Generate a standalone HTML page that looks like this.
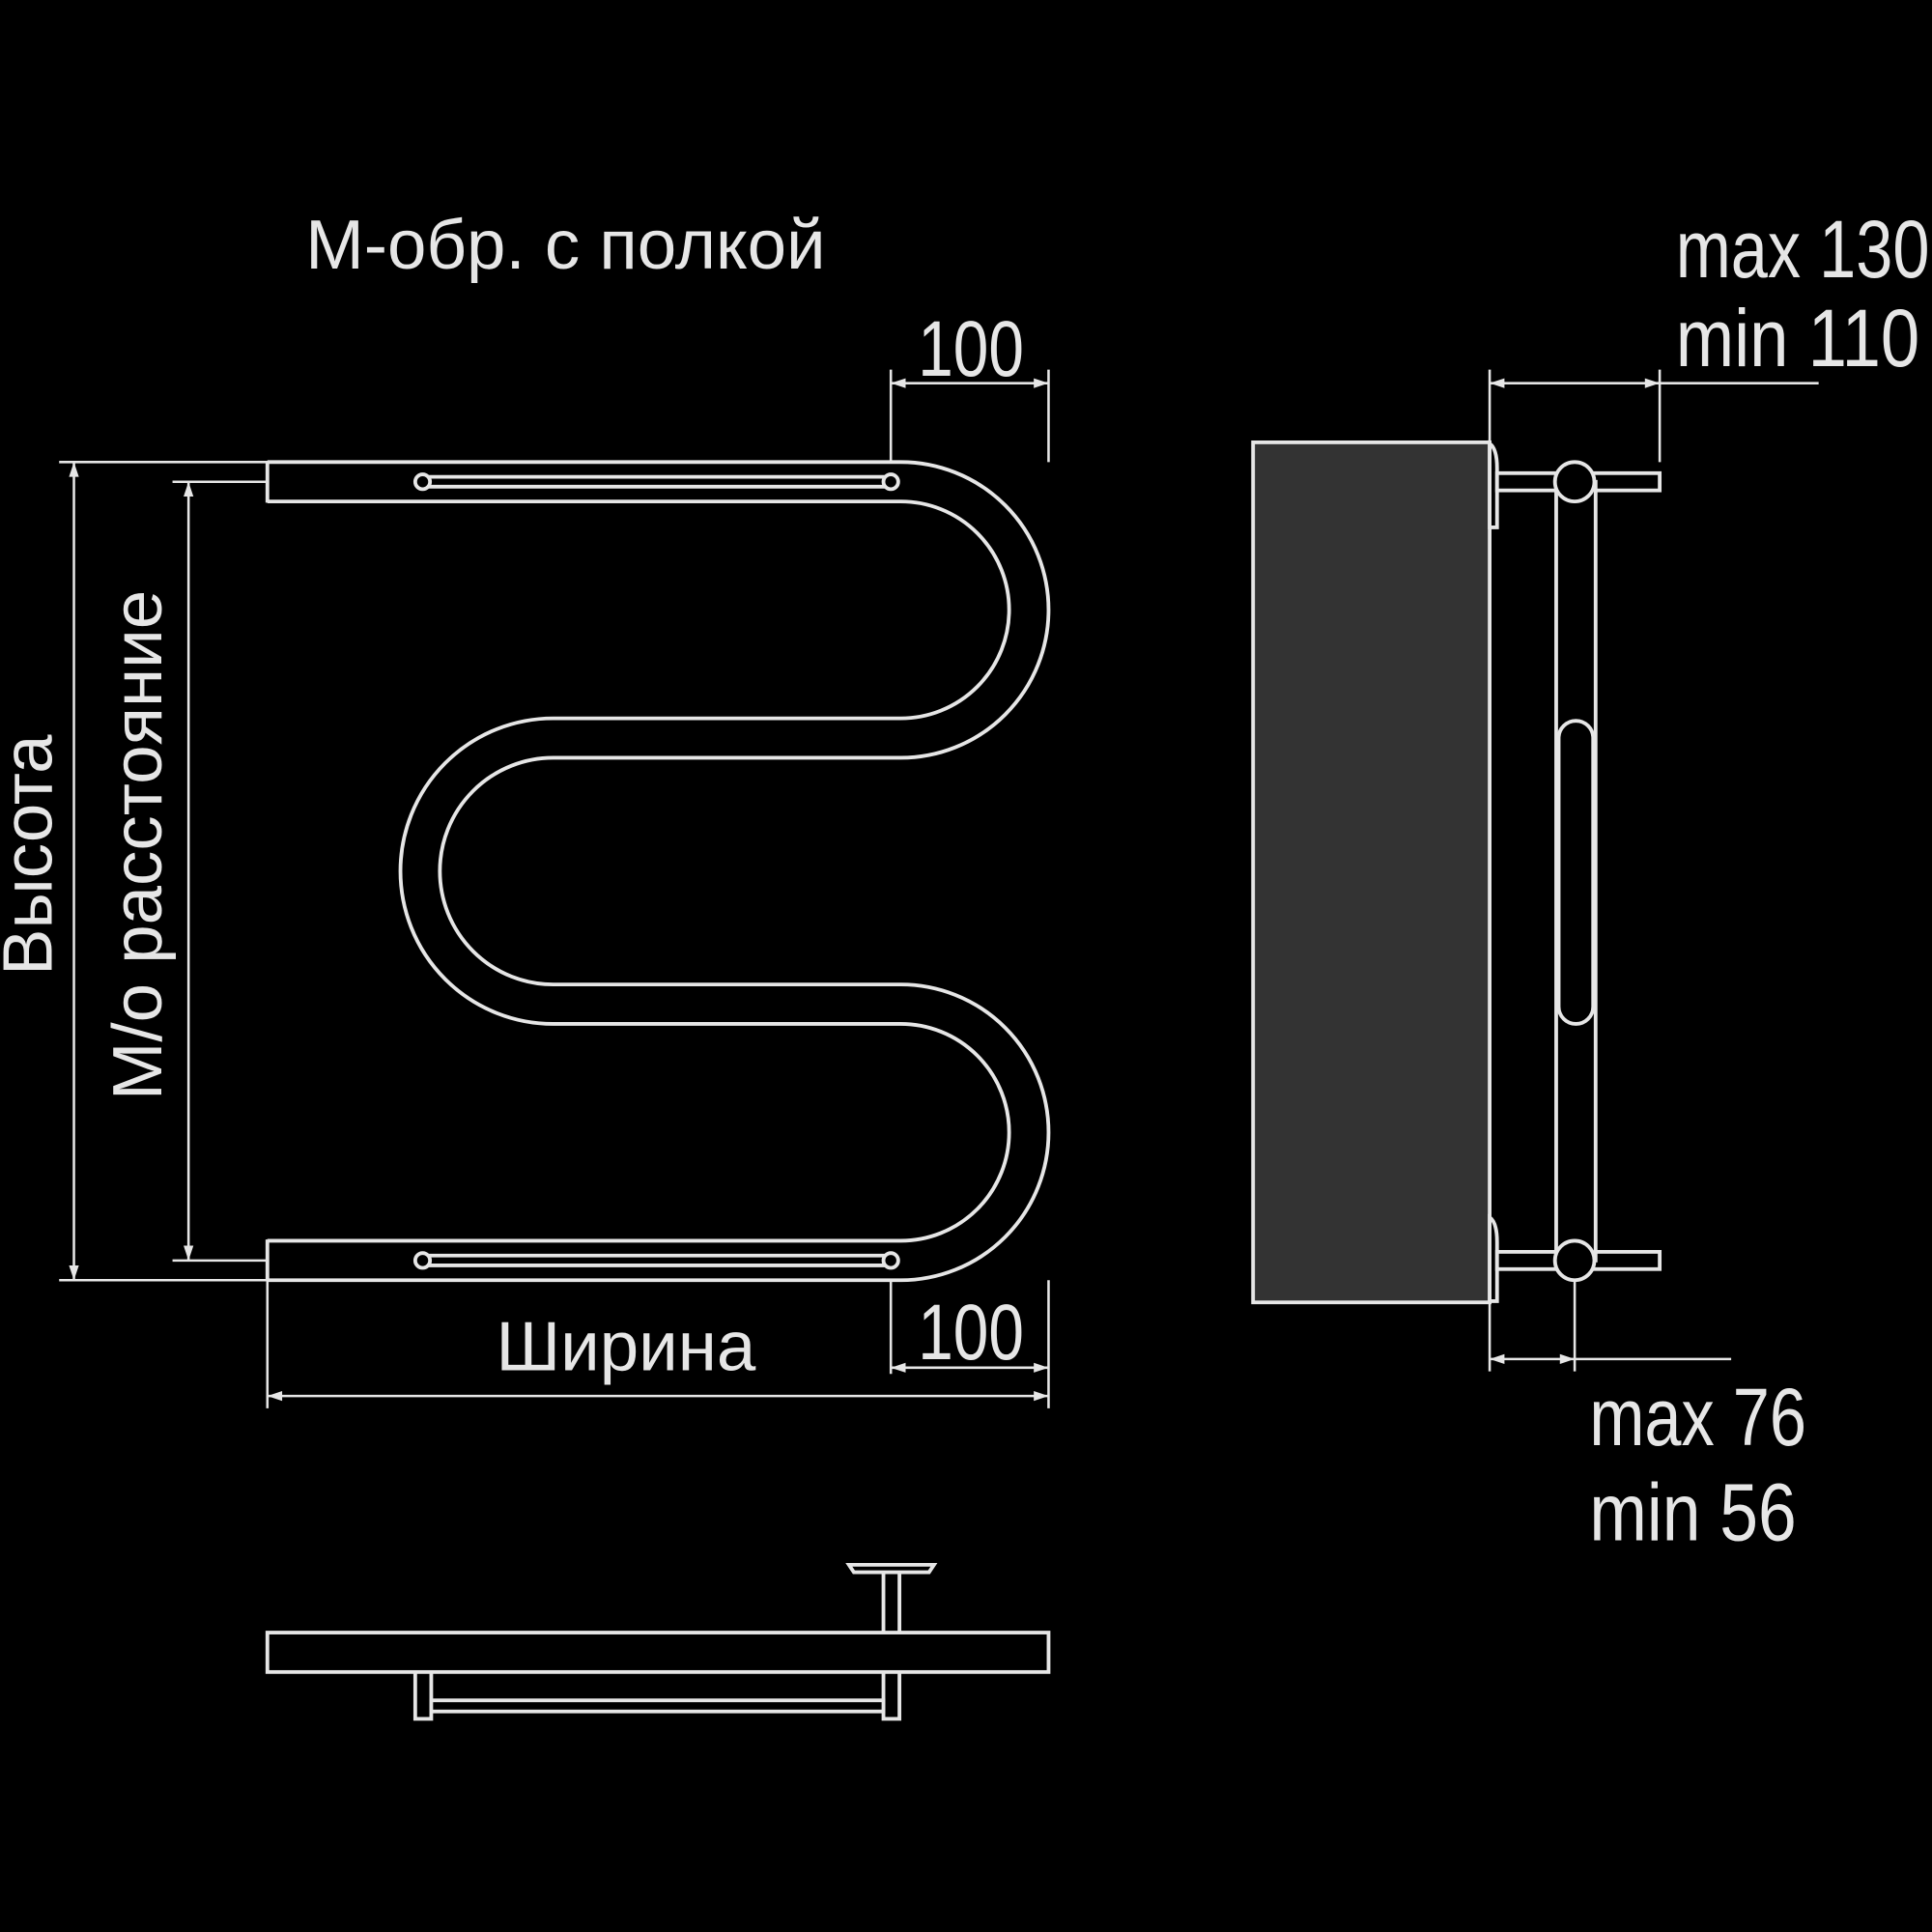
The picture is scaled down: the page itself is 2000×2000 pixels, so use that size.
<!DOCTYPE html>
<html><head><meta charset="utf-8"><style>
html,body{margin:0;padding:0;background:#000;}
svg{display:block}
text{font-family:"Liberation Sans","DejaVu Sans",sans-serif;fill:#e6e6e6}
.c{font-family:"Liberation Sans Narrow","Liberation Sans",sans-serif}
</style></head><body>
<svg width="2000" height="2000" viewBox="0 0 1568 1568" xmlns="http://www.w3.org/2000/svg">
<rect width="1568" height="1568" fill="#000"/>
<text x="459" y="218" font-size="57" text-anchor="middle">М-обр. с полкой</text>

<!-- M pipe -->
<g fill="none" stroke-linecap="butt">
<path d="M217 391 H731 A104 104 0 0 1 731 599 H449 A108 108 0 0 0 449 815 H731 A104 104 0 0 1 731 1023 H217" stroke="#e6e6e6" stroke-width="35"/>
<path d="M218 391 H731 A104 104 0 0 1 731 599 H449 A108 108 0 0 0 449 815 H731 A104 104 0 0 1 731 1023 H218" stroke="#000" stroke-width="29"/>
</g>
<g stroke="#e6e6e6" stroke-width="3" fill="none">
<line x1="217" y1="374" x2="217" y2="408"/>
<line x1="217" y1="1006" x2="217" y2="1040"/>
<rect x="343" y="387" width="380" height="8" rx="4"/>
<circle cx="343" cy="391" r="6" fill="#000"/><circle cx="723" cy="391" r="6" fill="#000"/>
<rect x="343" y="1019" width="380" height="8" rx="4"/>
<circle cx="343" cy="1023" r="6" fill="#000"/><circle cx="723" cy="1023" r="6" fill="#000"/>
</g>

<!-- dimensions -->
<g stroke="#e6e6e6" stroke-width="2" fill="none">
<line x1="723" y1="300" x2="723" y2="375"/><line x1="851" y1="300" x2="851" y2="375"/>
<line x1="723" y1="311" x2="851" y2="311"/>
<line x1="48" y1="375" x2="217" y2="375"/><line x1="48" y1="1039" x2="217" y2="1039"/>
<line x1="60" y1="375" x2="60" y2="1039"/>
<line x1="140" y1="391" x2="217" y2="391"/><line x1="140" y1="1023" x2="217" y2="1023"/>
<line x1="153" y1="391" x2="153" y2="1023"/>
<line x1="217" y1="1039" x2="217" y2="1143"/><line x1="851" y1="1039" x2="851" y2="1143"/>
<line x1="217" y1="1133" x2="851" y2="1133"/>
<line x1="723" y1="1039" x2="723" y2="1115"/>
<line x1="723" y1="1110" x2="851" y2="1110"/>
</g>
<g fill="#e6e6e6">
<path d="M723 311 l12 -4 v8z"/><path d="M851 311 l-12 -4 v8z"/>
<path d="M60 375 l-4 12 h8z"/><path d="M60 1039 l-4 -12 h8z"/>
<path d="M153 391 l-4 12 h8z"/><path d="M153 1023 l-4 -12 h8z"/>
<path d="M217 1133 l12 -4 v8z"/><path d="M851 1133 l-12 -4 v8z"/>
<path d="M723 1110 l12 -4 v8z"/><path d="M851 1110 l-12 -4 v8z"/>
</g>
<text class="c" x="788" y="305" font-size="64" text-anchor="middle" textLength="86" lengthAdjust="spacingAndGlyphs">100</text>
<text class="c" x="788" y="1103" font-size="64" text-anchor="middle" textLength="86" lengthAdjust="spacingAndGlyphs">100</text>
<text x="508" y="1112" font-size="57" text-anchor="middle">Ширина</text>
<text transform="translate(42 694) rotate(-90)" font-size="57" text-anchor="middle">Высота</text>
<text transform="translate(131 686) rotate(-90)" font-size="57" text-anchor="middle">М/о расстояние</text>

<!-- side view -->
<rect x="1017" y="359" width="192" height="698" fill="#333" stroke="#e6e6e6" stroke-width="3"/>
<g stroke="#e6e6e6" stroke-width="3" fill="#000">
<path d="M1209 360 q6 4 6 20 v48 h-6z"/>
<path d="M1209 988 q6 4 6 20 v48 h-6z"/>
<rect x="1215" y="384" width="132" height="14"/>
<rect x="1215" y="1016" width="132" height="14"/>
<rect x="1263" y="391" width="32" height="632"/>
<rect x="1265" y="585" width="28" height="246" rx="14"/>
<circle cx="1278" cy="391" r="16"/>
<circle cx="1278" cy="1023" r="16"/>
</g>
<g stroke="#e6e6e6" stroke-width="2" fill="none">
<line x1="1209" y1="300" x2="1209" y2="358"/><line x1="1347" y1="300" x2="1347" y2="375"/>
<line x1="1209" y1="311" x2="1476" y2="311"/>
<line x1="1209" y1="1058" x2="1209" y2="1113"/><line x1="1278" y1="1040" x2="1278" y2="1113"/>
<line x1="1209" y1="1103" x2="1405" y2="1103"/>
</g>
<g fill="#e6e6e6">
<path d="M1209 311 l12 -4 v8z"/><path d="M1347 311 l-12 -4 v8z"/>
<path d="M1209 1103 l12 -4 v8z"/><path d="M1278 1103 l-12 -4 v8z"/>
</g>
<text class="c" x="1360" y="225" font-size="66" textLength="206" lengthAdjust="spacingAndGlyphs">max 130</text>
<text class="c" x="1360" y="297" font-size="66" textLength="198" lengthAdjust="spacingAndGlyphs">min 110</text>
<text class="c" x="1290" y="1173" font-size="66" textLength="176" lengthAdjust="spacingAndGlyphs">max 76</text>
<text class="c" x="1290" y="1250" font-size="66" textLength="168" lengthAdjust="spacingAndGlyphs">min 56</text>

<!-- top view -->
<g stroke="#e6e6e6" stroke-width="3" fill="#000">
<rect x="337" y="1355" width="13" height="40"/>
<rect x="717" y="1355" width="13" height="40"/>
<rect x="350" y="1380" width="367" height="9"/>
<rect x="717" y="1274" width="13" height="52"/>
<path d="M689 1270 h69 l-4 6 h-61z"/>
<rect x="217" y="1325" width="634" height="32"/>
</g>
</svg>
</body></html>
